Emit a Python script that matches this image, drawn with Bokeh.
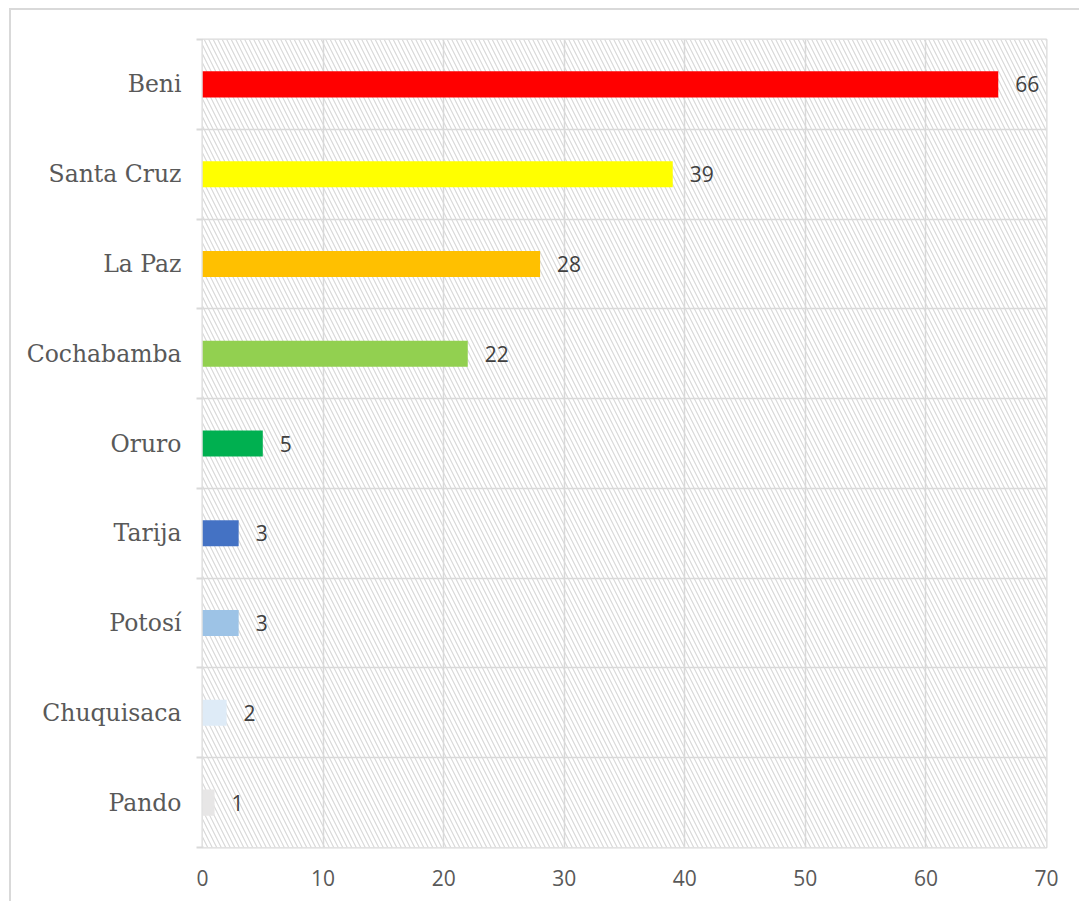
from bokeh.plotting import figure
from bokeh.models import FixedTicker, Range1d, BoxAnnotation, ColumnDataSource
from bokeh.core.properties import value
from bokeh.embed import file_html
from bokeh.resources import INLINE

# Data (top to bottom)
departments = ["Beni", "Santa Cruz", "La Paz", "Cochabamba", "Oruro",
               "Tarija", "Potosí", "Chuquisaca", "Pando"]
cases = [66, 39, 28, 22, 5, 3, 3, 2, 1]
colors = ["#FF0000", "#FFFF00", "#FFC000", "#92D050", "#00B050",
          "#4472C4", "#9DC3E6", "#DEEBF7", "#E7E6E6"]
x_ticks = [0, 10, 20, 30, 40, 50, 60, 70]

n = len(departments)
ypos = [n - 0.5 - i for i in range(n)]

src = ColumnDataSource(dict(
    y=ypos, v=cases, c=colors, lab=[str(v) for v in cases]))

p = figure(width=1070, height=893, output_backend="svg", toolbar_location=None,
           x_range=Range1d(0, 70), y_range=Range1d(0, n),
           min_border_left=191, min_border_right=35,
           min_border_top=29, min_border_bottom=56)
p.styles = {"border-left": "2px solid #d9d9d9", "border-top": "2px solid #d9d9d9",
            "margin-left": "9px", "margin-top": "8px"}
p.background_fill_color = "white"
p.border_fill_color = "white"
p.outline_line_color = "#d9d9d9"
p.outline_line_width = 2

# hatched plot-area background
hatch = BoxAnnotation(fill_color="white", fill_alpha=1.0, line_color=None,
                      hatch_pattern="\\", hatch_color="#d9d9d9",
                      hatch_scale=9, hatch_weight=1.2, level="image")
p.add_layout(hatch)

# grids
p.xgrid.ticker = FixedTicker(ticks=x_ticks)
p.xgrid.grid_line_color = "#d9d9d9"
p.xgrid.grid_line_width = 1.5
p.ygrid.ticker = FixedTicker(ticks=list(range(n + 1)))
p.ygrid.grid_line_color = "#d9d9d9"
p.ygrid.grid_line_width = 1.5

# x axis
p.xaxis.ticker = FixedTicker(ticks=x_ticks)
p.xaxis.axis_line_color = None
p.xaxis.major_tick_line_color = None
p.xaxis.minor_tick_line_color = None
p.xaxis.major_tick_out = 0
p.xaxis.major_label_standoff = 22
p.xaxis.major_label_text_font = "Open Sans"
p.xaxis.major_label_text_font_size = "21px"
p.xaxis.major_label_text_color = "#595959"

# y axis (categories)
p.yaxis.ticker = FixedTicker(ticks=ypos, minor_ticks=list(range(n + 1)))
p.yaxis.major_label_overrides = {y: d for y, d in zip(ypos, departments)}
p.yaxis.axis_line_color = None
p.yaxis.major_tick_line_color = None
p.yaxis.major_tick_out = 0
p.yaxis.minor_tick_out = 6
p.yaxis.minor_tick_in = 0
p.yaxis.minor_tick_line_color = "#d9d9d9"
p.yaxis.minor_tick_line_width = 2
p.yaxis.major_label_standoff = 15
p.yaxis.major_label_text_font = "DejaVu Serif"
p.yaxis.major_label_text_font_size = "23.5px"
p.yaxis.major_label_text_color = "#595959"

# bars
p.hbar(y="y", left=0, right="v", height=0.29, fill_color="c",
       line_color=None, source=src)

# value labels
p.text(x="v", y="y", text="lab", x_offset=17, text_baseline="middle",
       text_align="left", text_font=value("Open Sans"),
       text_font_size="21px", text_color="#404040", source=src)

open("out.html", "w").write(file_html(p, INLINE))
